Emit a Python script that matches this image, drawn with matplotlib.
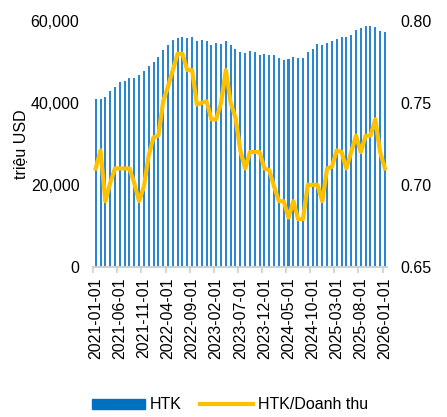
import matplotlib.pyplot as plt
import matplotlib.ticker as mticker
import pandas as pd

plt.rcParams['font.family'] = ['Liberation Sans', 'DejaVu Sans']
plt.rcParams['font.size'] = 11.5

# monthly data, 2021-01 .. 2026-01
months = pd.date_range('2021-01-01', '2026-01-01', freq='MS').strftime('%Y-%m-%d').tolist()

htk = [41000, 41000, 41400, 42800, 44000, 45150, 45400, 46100, 46100, 46700,
       47900, 49000, 50000, 51200, 52900, 54200, 55400, 55900, 56200, 55800,
       56200, 55200, 55400, 55100, 54200, 54700, 54500, 55200, 54100, 53100,
       52500, 52300, 52800, 52500, 51800, 52000, 51800, 51600, 51000, 50500,
       50800, 51300, 51000, 51000, 52500, 53200, 54500, 54100, 54700, 55100,
       55500, 56200, 56200, 56700, 57900, 58200, 58700, 58700, 58600, 57500,
       57200]

ratio = [0.710, 0.721, 0.690, 0.701, 0.710, 0.710, 0.710, 0.710, 0.701, 0.690,
         0.699, 0.718, 0.729, 0.730, 0.751, 0.760, 0.770, 0.780, 0.780, 0.770,
         0.770, 0.749, 0.750, 0.751, 0.740, 0.740, 0.750, 0.770, 0.750, 0.741,
         0.721, 0.710, 0.720, 0.720, 0.720, 0.710, 0.709, 0.699, 0.690, 0.690,
         0.680, 0.690, 0.679, 0.679, 0.700, 0.700, 0.700, 0.690, 0.710, 0.711,
         0.721, 0.720, 0.710, 0.720, 0.730, 0.720, 0.730, 0.730, 0.740, 0.720,
         0.710]

x = list(range(len(months)))

fig = plt.figure(figsize=(4.47, 4.17), dpi=100)
ax = fig.add_axes([0.2087, 0.3604, 0.6578, 0.5892])
ax2 = ax.twinx()

bars = ax.bar(x, htk, width=0.42, color='#2a86d0', label='HTK')
line, = ax2.plot(x, ratio, color='#FFC000', lw=3, solid_joinstyle='round', label='HTK/Doanh thu')

ax.set_xlim(-0.5, len(x) - 0.5)
ax.set_ylim(0, 60000)
ax.set_yticks([0, 20000, 40000, 60000])
ax.yaxis.set_major_formatter(mticker.FuncFormatter(lambda v, p: f'{int(v):,}'))
ax2.set_ylim(0.65, 0.80)
ax2.set_yticks([0.65, 0.70, 0.75, 0.80])
ax2.yaxis.set_major_formatter(mticker.FormatStrFormatter('%.2f'))

ax.set_xticks(x[::5])
ax.set_xticklabels(months[::5], rotation=90)
ax.set_xticks([i - 0.5 for i in x[::5]], minor=True)
ax.tick_params(axis='x', which='major', length=0, pad=8)
ax.tick_params(axis='x', which='minor', length=4, color='#d0d0d0', width=1.2)
ax.tick_params(axis='y', length=0, pad=10)
ax2.tick_params(axis='y', length=0, pad=9.5)

for a in (ax, ax2):
    for s in ['top', 'left', 'right']:
        a.spines[s].set_visible(False)
    a.spines['bottom'].set_color('#d0d0d0')
    a.spines['bottom'].set_linewidth(1.2)

ax.set_ylabel('triệu USD', labelpad=1.5)

bars_handle = plt.Rectangle((0, 0), 1, 1, color='#0070C0')
fig.legend([bars_handle, line], ['HTK', 'HTK/Doanh thu'], loc='center',
           bbox_to_anchor=(0.515, 0.029), ncol=2, frameon=False,
           handlelength=3.3, handleheight=0.55, handletextpad=0.31,
           columnspacing=1.15, fontsize=11.5)

plt.savefig('out.png', dpi=100)
